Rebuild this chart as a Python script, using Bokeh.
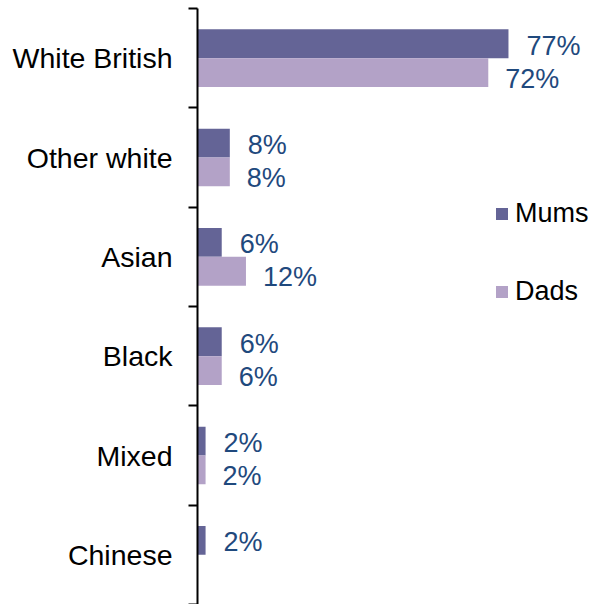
from bokeh.plotting import figure
from bokeh.models import ColumnDataSource, Range1d, FixedTicker, Legend, LegendItem
from bokeh.core.properties import value
from bokeh.embed import file_html
from bokeh.resources import INLINE

categories = ["White British", "Other white", "Asian", "Black", "Mixed", "Chinese"]
mums = [77, 8, 6, 6, 2, 2]
dads = [72, 8, 12, 6, 2, 0]

MUM_COLOR = "#646496"
DAD_COLOR = "#B3A2C7"
LABEL_COLOR = "#1F497D"
FONT = "Liberation Sans"

n = len(categories)
centers = [n - 0.5 - i for i in range(n)]
off = 0.145
bar_h = 0.29

src_m = ColumnDataSource(dict(y=[c + off for c in centers], v=mums))
src_d = ColumnDataSource(dict(y=[c - off for c in centers], v=dads))
lab_m = ColumnDataSource(dict(y=[c + off for c, v in zip(centers, mums) if v > 0],
                              v=[v for v in mums if v > 0],
                              t=[f"{v}%" for v in mums if v > 0]))
lab_d = ColumnDataSource(dict(y=[c - off for c, v in zip(centers, dads) if v > 0],
                              v=[v for v in dads if v > 0],
                              t=[f"{v}%" for v in dads if v > 0]))

p = figure(width=594, height=604, output_backend="svg", toolbar_location=None,
           x_range=Range1d(0, 98.3), y_range=Range1d(0, n),
           min_border_left=197, min_border_right=0, min_border_top=8,
           min_border_bottom=0)
p.outline_line_color = None
p.xgrid.visible = False
p.ygrid.visible = False
p.xaxis.visible = False

rm = p.hbar(y="y", right="v", left=0, height=bar_h, source=src_m,
            fill_color=MUM_COLOR, line_color=None)
rd = p.hbar(y="y", right="v", left=0, height=bar_h, source=src_d,
            fill_color=DAD_COLOR, line_color=None)

p.text(x="v", y="y", text="t", source=lab_m, x_offset=18, y_offset=2,
       text_baseline="middle", text_font=value(FONT), text_font_size="27px",
       text_color=LABEL_COLOR)
p.text(x="v", y="y", text="t", source=lab_d, x_offset=17, y_offset=6,
       text_baseline="middle", text_font=value(FONT), text_font_size="27px",
       text_color=LABEL_COLOR)

ax = p.yaxis[0]
ax.ticker = FixedTicker(ticks=centers, minor_ticks=list(range(n + 1)))
ax.major_label_overrides = {c: cat for c, cat in zip(centers, categories)}
ax.major_tick_out = 0
ax.major_tick_in = 0
ax.minor_tick_out = 9
ax.minor_tick_in = 0
ax.minor_tick_line_width = 2
ax.minor_tick_line_color = "black"
ax.axis_line_width = 2
ax.axis_line_color = "black"
ax.major_label_standoff = 16
ax.major_label_text_font = FONT
ax.major_label_text_font_size = "28.5px"
ax.major_label_text_color = "black"

legend = Legend(items=[LegendItem(label="Mums", renderers=[rm]),
                       LegendItem(label="Dads", renderers=[rd])],
                location=(297, 297), padding=0, margin=0, spacing=47,
                glyph_width=15, glyph_height=15, label_standoff=6,
                label_text_font=FONT, label_text_font_size="27px",
                label_text_color="black", border_line_color=None,
                background_fill_alpha=0)
p.add_layout(legend, "center")

open("out.html", "w").write(file_html(p, INLINE))
